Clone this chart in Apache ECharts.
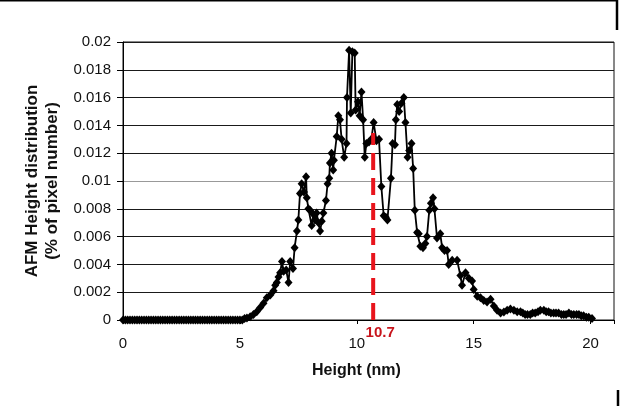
<!DOCTYPE html>
<html>
<head>
<meta charset="utf-8">
<script src="https://cdn.jsdelivr.net/npm/echarts@6/dist/echarts.min.js"></script>
<style>html,body{margin:0;padding:0;background:#fff;}#c{width:626px;height:406px;}</style>
</head>
<body>
<div id="c"></div>
<script>
var heights = [0,0.1,0.2,0.3,0.4,0.5,0.6,0.7,0.8,0.9,1.0,1.1,1.2,1.3,1.4,1.5,1.6,1.7,1.8,1.9,2.0,2.1,2.2,2.3,2.4,2.5,2.6,2.7,2.8,2.9,3.0,3.1,3.2,3.3,3.4,3.5,3.6,3.7,3.8,3.9,4.0,4.1,4.2,4.3,4.4,4.5,4.6,4.7,4.8,4.9,5.0,5.1,
5.2,5.3,5.44,5.58,5.72,5.87,6.01,6.15,6.3,6.44,6.51,6.58,6.65,6.72,6.8,6.87,6.98,7.08,7.15,7.27,7.34,7.44,7.5,7.57,7.64,7.74,7.83,7.86,7.93,8.0,8.07,8.14,8.21,8.28,8.36,8.43,8.5,8.57,8.68,8.75,8.82,8.85,8.92,8.99,9.02,9.14,9.21,9.28,9.35,9.46,9.56,9.58,9.67,9.74,9.81,9.91,9.95,10.05,10.12,10.2,10.27,10.34,10.41,10.52,10.62,10.72,10.84,10.95,11.05,11.15,11.24,11.31,11.46,11.53,11.63,11.67,11.73,11.81,11.91,12.01,12.08,12.17,12.24,12.34,12.41,12.48,12.58,12.65,12.72,12.83,12.93,13.0,13.1,13.17,13.26,13.32,13.43,13.57,13.65,13.75,13.86,13.93,14.08,14.29,14.43,14.5,14.65,14.79,14.93,15.0,15.15,15.29,15.43,15.57,15.72,15.86,16.0,16.15,16.29,16.43,16.57,16.72,16.86,17.0,17.1,17.2,17.3,17.42,17.52,17.63,17.75,17.85,18.0,18.1,18.2,18.3,18.42,18.52,18.63,18.75,18.85,18.95,19.07,19.18,19.28,19.4,19.5,19.6,19.7,19.82,19.92,20.06];
var distribution = [0,0,0,0,0,0,0,0,0,0,0,0,0,0,0,0,0,0,0,0,0,0,0,0,0,0,0,0,0,0,0,0,0,0,0,0,0,0,0,0,0,0,0,0,0,0,0,0,0,0,0,0,
0.0001,0.00015,0.00024,0.0004,0.0006,0.0009,0.0012,0.0016,0.0018,0.0021,0.0025,0.0027,0.0031,0.0034,0.0042,0.0035,0.0036,0.0027,0.0042,0.0037,0.0052,0.0064,0.0072,0.0091,0.0098,0.0092,0.0103,0.0088,0.008,0.0079,0.0068,0.0076,0.0072,0.0077,0.007,0.0064,0.0071,0.0077,0.0086,0.0098,0.0102,0.0113,0.012,0.0108,0.0115,0.0132,0.0147,0.0144,0.013,0.0117,0.0127,0.016,0.0194,0.0149,0.0193,0.0192,0.0151,0.0157,0.0147,0.0164,0.0144,0.0117,0.0127,0.0128,0.013,0.0142,0.0129,0.013,0.0096,0.0075,0.0074,0.0072,0.0102,0.0127,0.0126,0.0144,0.0155,0.015,0.0156,0.016,0.0142,0.0117,0.0122,0.0127,0.0109,0.0079,0.0063,0.0062,0.0053,0.0052,0.0055,0.006,0.0079,0.0084,0.0088,0.008,0.0059,0.0062,0.0052,0.005,0.005,0.004,0.0043,0.0043,0.0032,0.0025,0.0034,0.003,0.0028,0.0022,0.0017,0.0016,0.0014,0.0013,0.0015,0.001,0.0007,0.0005,0.00058,0.0007,0.0008,0.0007,0.0006,0.0006,0.0005,0.0004,0.0004,0.0004,0.0005,0.0005,0.0006,0.0007,0.0007,0.0006,0.0006,0.0005,0.0005,0.0005,0.0005,0.0004,0.0004,0.0004,0.0005,0.0004,0.0004,0.0004,0.0004,0.0003,0.0003,0.0002,0.0002,0.0001];
var markerHeight = [10.7, 10.7];
var markerValue = [0, 0.01345];
var markerText = '10.7';
var xTitle = 'Height (nm)';
var yTitle = 'AFM Height distribution\n(% of pixel number)';

var mainData = heights.map(function (h, i) { return [h, distribution[i]]; });
var markData = markerHeight.map(function (h, i) { return [h, markerValue[i]]; });

var chart = echarts.init(document.getElementById('c'));
var gridColors = ['#1a1a1a','#1a1a1a','#1a1a1a','#1a1a1a','#1a1a1a','#999','#1a1a1a','#1a1a1a','#1a1a1a','#1a1a1a','#1a1a1a'];
var FONT = 'Liberation Sans, Arial, sans-serif';
chart.setOption({
  animation: false,
  backgroundColor: '#fff',
  grid: { left: 123, right: 12, top: 42, bottom: 86, show: true, borderColor: '#111', borderWidth: 1, backgroundColor: 'transparent' },
  xAxis: {
    type: 'value', min: 0, max: 21, interval: 5,
    axisLine: { show: true, lineStyle: { color: '#000', width: 1 } },
    axisTick: { show: true, length: 4, lineStyle: { color: '#000' } },
    axisLabel: { color: '#111', fontFamily: FONT, fontSize: 15, margin: 16,
      formatter: function (v) { return v % 5 === 0 ? String(v) : ''; } },
    splitLine: { show: false }
  },
  yAxis: {
    type: 'value', min: 0, max: 0.02, interval: 0.002,
    name: yTitle, nameLocation: 'middle', nameGap: 60,
    nameTextStyle: { color: '#111', fontFamily: FONT, fontSize: 17, fontWeight: 'bold', lineHeight: 20 },
    axisLine: { show: true, lineStyle: { color: '#000', width: 1 } },
    axisTick: { show: true, length: 6, lineStyle: { color: '#000' } },
    axisLabel: { color: '#111', fontFamily: FONT, fontSize: 15, margin: 12 },
    splitLine: { show: true, lineStyle: { color: gridColors, width: 1 } }
  },
  graphic: [
    { type: 'text', left: 312, top: 363, style: { text: xTitle, fill: '#111', font: 'bold 16px "Liberation Sans", Arial, sans-serif' } },
    { type: 'line', shape: { x1: 0, y1: 0.5, x2: 617, y2: 0.5 }, style: { stroke: '#000', lineWidth: 2 } },
    { type: 'line', shape: { x1: 617, y1: 0, x2: 617, y2: 30 }, style: { stroke: '#000', lineWidth: 2.5 } },
    { type: 'line', shape: { x1: 618, y1: 390, x2: 618, y2: 406 }, style: { stroke: '#000', lineWidth: 2.5 } }
  ],
  series: [
    {
      type: 'line', data: mainData, symbol: 'diamond', symbolSize: [8, 9], showSymbol: true,
      lineStyle: { color: '#000', width: 1.8 }, itemStyle: { color: '#000' }, z: 3
    },
    {
      type: 'line', data: markData.map(function (d, i) {
        return i === 0 ? { value: d, label: { show: true, formatter: markerText, position: 'bottom', distance: 5, offset: [7, 0],
          color: '#c8141c', fontWeight: 'bold', fontSize: 15, fontFamily: FONT } } : { value: d };
      }),
      symbol: 'circle', symbolSize: 0.1, showSymbol: true,
      lineStyle: { color: '#e8141c', width: 4, type: [17, 8] }, itemStyle: { color: '#e8141c' }, z: 4
    }
  ]
});
</script>
</body>
</html>
